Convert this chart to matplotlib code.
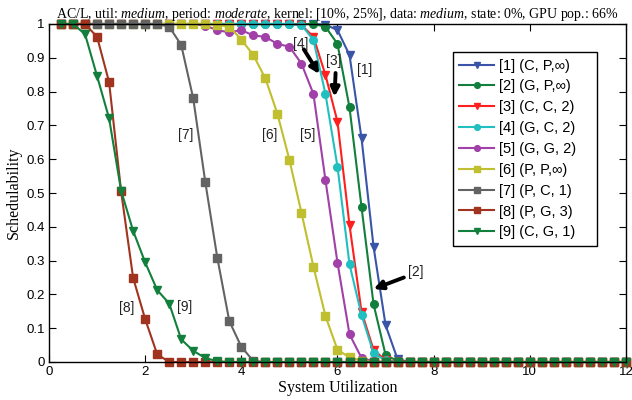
import matplotlib
matplotlib.use("Agg")
import matplotlib.pyplot as plt

# x grid (system utilization)
util = [0.25, 0.5, 0.75, 1.0, 1.25, 1.5, 1.75, 2.0, 2.25, 2.5, 2.75, 3.0,
        3.25, 3.5, 3.75, 4.0, 4.25, 4.5, 4.75, 5.0, 5.25, 5.5, 5.75, 6.0,
        6.25, 6.5, 6.75, 7.0, 7.25, 7.5, 7.75, 8.0, 8.25, 8.5, 8.75, 9.0,
        9.25, 9.5, 9.75, 10.0, 10.25, 10.5, 10.75, 11.0, 11.25, 11.5, 11.75, 12.0]

s1 = [1, 1, 1, 1, 1, 1, 1, 1, 1, 1, 1, 1,
      1, 1, 1, 1, 1, 1, 1, 1, 1, 1, 0.998, 0.982,
      0.908, 0.662, 0.341, 0.109, 0.008, 0, 0, 0, 0, 0, 0, 0,
      0, 0, 0, 0, 0, 0, 0, 0, 0, 0, 0, 0]
s2 = [1, 1, 1, 1, 1, 1, 1, 1, 1, 1, 1, 1,
      1, 1, 1, 1, 1, 1, 1, 1, 1, 1, 0.992, 0.941,
      0.753, 0.458, 0.171, 0.021, 0.003, 0, 0, 0, 0, 0, 0, 0,
      0, 0, 0, 0, 0, 0, 0, 0, 0, 0, 0, 0]
s3 = [1, 1, 1, 1, 1, 1, 1, 1, 1, 1, 1, 1,
      1, 1, 1, 1, 1, 1, 1, 1, 0.997, 0.962, 0.849, 0.711,
      0.405, 0.149, 0.036, 0.005, 0, 0, 0, 0, 0, 0, 0, 0,
      0, 0, 0, 0, 0, 0, 0, 0, 0, 0, 0, 0]
s4 = [1, 1, 1, 1, 1, 1, 1, 1, 1, 1, 1, 1,
      1, 1, 1, 1, 1, 1, 1, 1, 0.997, 0.953, 0.793, 0.578,
      0.289, 0.139, 0.026, 0.005, 0, 0, 0, 0, 0, 0, 0, 0,
      0, 0, 0, 0, 0, 0, 0, 0, 0, 0, 0, 0]
s5 = [1, 1, 1, 1, 1, 1, 1, 1, 1, 1, 1, 1,
      0.995, 0.982, 0.975, 0.982, 0.966, 0.962, 0.941, 0.933, 0.883, 0.793, 0.538, 0.294,
      0.082, 0.012, 0.002, 0, 0, 0, 0, 0, 0, 0, 0, 0,
      0, 0, 0, 0, 0, 0, 0, 0, 0, 0, 0, 0]
s6 = [1, 1, 1, 1, 1, 1, 1, 1, 1, 1, 1, 1,
      1, 0.998, 0.992, 0.954, 0.908, 0.839, 0.735, 0.598, 0.442, 0.282, 0.136, 0.036,
      0.014, 0.004, 0, 0, 0, 0, 0, 0, 0, 0, 0, 0,
      0, 0, 0, 0, 0, 0, 0, 0, 0, 0, 0, 0]
s7 = [1, 1, 1, 1, 1, 1, 1, 1, 1, 0.992, 0.938, 0.78,
      0.533, 0.309, 0.121, 0.045, 0.003, 0, 0, 0, 0, 0, 0, 0,
      0, 0, 0, 0, 0, 0, 0, 0, 0, 0, 0, 0,
      0, 0, 0, 0, 0, 0, 0, 0, 0, 0, 0, 0]
s8 = [1, 1, 1, 0.962, 0.828, 0.505, 0.249, 0.127, 0.023, 0, 0, 0,
      0, 0, 0, 0, 0, 0, 0, 0, 0, 0, 0, 0,
      0, 0, 0, 0, 0, 0, 0, 0, 0, 0, 0, 0,
      0, 0, 0, 0, 0, 0, 0, 0, 0, 0, 0, 0]
s9 = [1, 1, 0.97, 0.846, 0.721, 0.507, 0.388, 0.295, 0.213, 0.173, 0.067, 0.033,
      0.012, 0.002, 0, 0, 0, 0, 0, 0, 0, 0, 0, 0,
      0, 0, 0, 0, 0, 0, 0, 0, 0, 0, 0, 0,
      0, 0, 0, 0, 0, 0, 0, 0, 0, 0, 0, 0]

labels = ["[1] (C, P,\u221e)", "[2] (G, P,\u221e)", "[3] (C, C, 2)",
          "[4] (G, C, 2)", "[5] (G, G, 2)", "[6] (P, P,\u221e)",
          "[7] (P, C, 1)", "[8] (P, G, 3)", "[9] (C, G, 1)"]
series = [s1, s2, s3, s4, s5, s6, s7, s8, s9]
colors = ["#3a55a8", "#12803c", "#ff1f1f", "#22bfc0", "#a040a8",
          "#bfbf30", "#636363", "#a0341e", "#12803c"]
markers = ["v", "o", "v", "o", "o", "s", "s", "s", "v"]

sans = ["Liberation Sans", "DejaVu Sans"]
serif = ["Liberation Serif", "DejaVu Serif"]
plt.rcParams["font.family"] = sans
plt.rcParams["mathtext.fontset"] = "custom"
plt.rcParams["mathtext.rm"] = "Liberation Serif"
plt.rcParams["mathtext.it"] = "Liberation Serif:italic"

fig = plt.figure(figsize=(6.32, 4.0), dpi=100)
ax = fig.add_axes([0.0775, 0.095, 0.913, 0.845])

for y, lab, c, m in zip(series, labels, colors, markers):
    ax.plot(util, y, color=c, marker=m, markersize=5.5, linewidth=1.5,
            label=lab, clip_on=False)

ax.set_xlim(0, 12)
ax.set_ylim(0, 1)
ax.set_xticks([0, 2, 4, 6, 8, 10, 12])
ax.set_yticks([0, 0.1, 0.2, 0.3, 0.4, 0.5, 0.6, 0.7, 0.8, 0.9, 1])
ax.set_yticklabels(["0", "0.1", "0.2", "0.3", "0.4", "0.5", "0.6", "0.7", "0.8", "0.9", "1"])
ax.tick_params(direction="in", top=True, right=True, length=5, labelsize=9.5, pad=3)
for sp in ax.spines.values():
    sp.set_linewidth(1.0)

ax.set_xlabel("System Utilization", family=serif, fontsize=11.5, labelpad=1)
ax.set_ylabel("Schedulability", family=serif, fontsize=11.5, labelpad=3)
ax.set_title(r"AC/L, util: $\mathit{medium}$, period: $\mathit{moderate}$, kernel: [10%, 25%], "
             r"data: $\mathit{medium}$, state: 0%, GPU pop.: 66%",
             family=serif, fontsize=10, pad=4)

# curve labels
tk = dict(fontsize=10, ha="center", va="center", color="#222222")
ax.text(2.85, 0.672, "[7]", **tk)
ax.text(4.60, 0.672, "[6]", **tk)
ax.text(5.375, 0.672, "[5]", **tk)
ax.text(5.23, 0.94, "[4]", **tk)
ax.text(5.93, 0.89, "[3]", **tk)
ax.text(6.57, 0.864, "[1]", **tk)
ax.text(7.63, 0.266, "[2]", **tk)
ax.text(1.62, 0.16, "[8]", **tk)
ax.text(2.82, 0.163, "[9]", **tk)

arrow = dict(arrowstyle="-|>", lw=2.8, color="k", mutation_scale=13,
             shrinkA=0, shrinkB=0)
ax.annotate("", xy=(5.62, 0.852), xytext=(5.30, 0.925), arrowprops=arrow)
ax.annotate("", xy=(5.94, 0.785), xytext=(5.96, 0.855), arrowprops=arrow)
ax.annotate("", xy=(6.75, 0.216), xytext=(7.38, 0.25), arrowprops=arrow)

leg = ax.legend(loc="upper left", bbox_to_anchor=(0.70, 0.917, 0.2496, 0.0),
                mode="expand", borderaxespad=0,
                fontsize=10.5, handlelength=2.4, fancybox=False, framealpha=1,
                edgecolor="k", labelspacing=0.47, handletextpad=0.3,
                borderpad=0.45, markerscale=0.75)
leg.get_frame().set_linewidth(1.0)

fig.savefig("out.png", dpi=100)
